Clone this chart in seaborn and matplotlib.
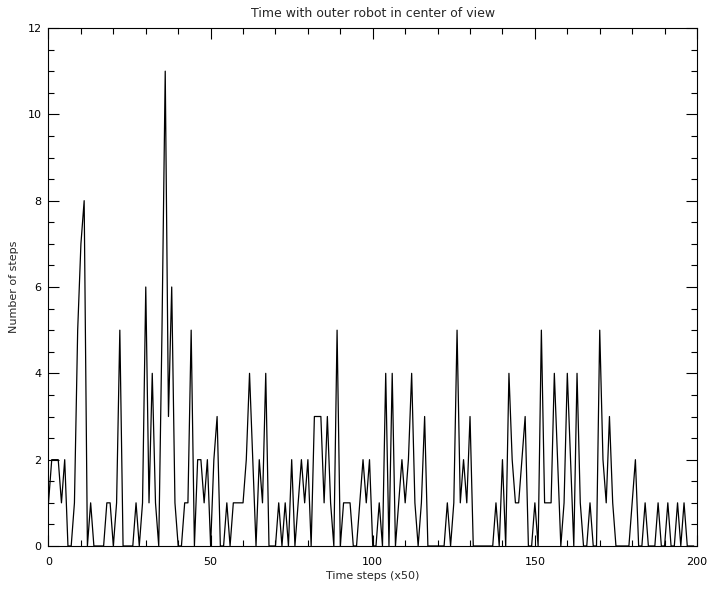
import numpy as np
import pandas as pd
import matplotlib
matplotlib.use("Agg")
import matplotlib.pyplot as plt
import seaborn as sns
from matplotlib.ticker import MultipleLocator

# ---- data ----
steps = list(range(200))
counts = [
    1, 2, 2, 2, 1, 2, 0, 0, 1, 5,
    7, 8, 0, 1, 0, 0, 0, 0, 1, 1,
    0, 1, 5, 0, 0, 0, 0, 1, 0, 1,
    6, 1, 4, 1, 0, 5, 11, 3, 6, 1,
    0, 0, 1, 1, 5, 0, 2, 2, 1, 2,
    0, 2, 3, 0, 0, 1, 0, 1, 1, 1,
    1, 2, 4, 2, 0, 2, 1, 4, 0, 0,
    0, 1, 0, 1, 0, 2, 0, 1, 2, 1,
    2, 0, 3, 3, 3, 1, 3, 1, 0, 5,
    0, 1, 1, 1, 0, 0, 1, 2, 1, 2,
    0, 0, 1, 0, 4, 0, 4, 0, 1, 2,
    1, 2, 4, 1, 0, 1, 3, 0, 0, 0,
    0, 0, 0, 1, 0, 1, 5, 1, 2, 1,
    3, 0, 0, 0, 0, 0, 0, 0, 1, 0,
    2, 0, 4, 2, 1, 1, 2, 3, 0, 0,
    1, 0, 5, 1, 1, 1, 4, 2, 0, 1,
    4, 2, 0, 4, 1, 0, 0, 1, 0, 0,
    5, 2, 1, 3, 1, 0, 0, 0, 0, 0,
    1, 2, 0, 0, 1, 0, 0, 0, 1, 0,
    0, 1, 0, 0, 1, 0, 1, 0, 0, 0,
]
x_ticks = [0, 50, 100, 150, 200]
y_ticks = [0, 2, 4, 6, 8, 10, 12]

title = "Time with outer robot in center of view"
x_label = "Time steps (x50)"
y_label = "Number of steps"

sns.set_style("white")
plt.rcParams['font.family'] = ['DejaVu Sans']

fig = plt.figure(figsize=(7.1, 5.92), dpi=100)
ax = fig.add_axes([0.0683, 0.0777, 0.9134, 0.875])

df = pd.DataFrame({"step": steps, "count": counts})
sns.lineplot(data=df, x="step", y="count", ax=ax, color="black",
             linewidth=0.9, legend=False)

ax.set_xlim(0, 200)
ax.set_ylim(0, 12)
ax.set_xticks(x_ticks)
ax.set_yticks(y_ticks)
ax.xaxis.set_minor_locator(MultipleLocator(10))
ax.yaxis.set_minor_locator(MultipleLocator(0.5))
ax.tick_params(which='both', direction='in', top=True, right=True,
               bottom=True, left=True, color='black', width=0.8,
               labelsize=8, labelcolor='black')
ax.tick_params(which='major', length=8)
ax.tick_params(axis='x', which='major', pad=8)
ax.tick_params(axis='y', which='major', pad=5)
ax.tick_params(which='minor', length=4)
for s in ax.spines.values():
    s.set_color('black')
    s.set_linewidth(0.8)

ax.set_title(title, fontsize=9, pad=8)
ax.set_xlabel(x_label, fontsize=8, labelpad=3)
ax.set_ylabel(y_label, fontsize=8, labelpad=6)

fig.savefig("out.png", dpi=100, facecolor="white")
